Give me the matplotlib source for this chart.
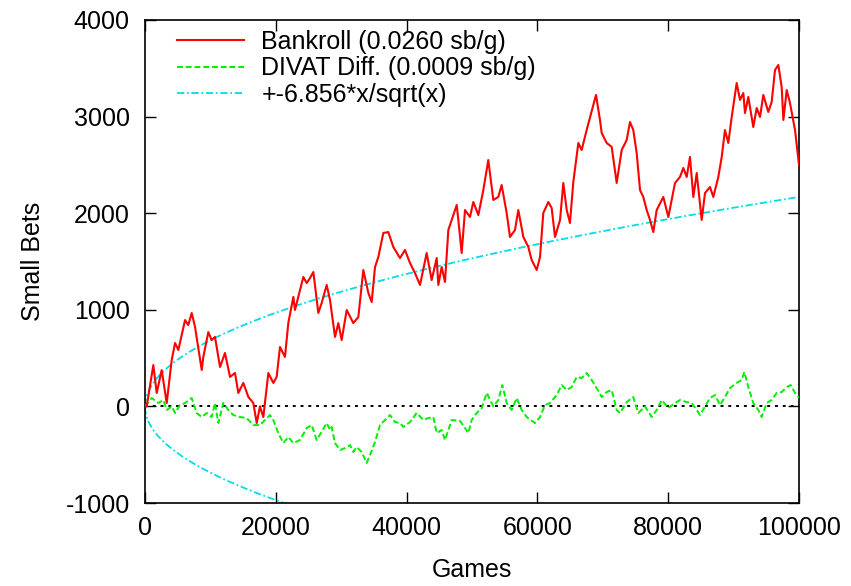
import numpy as np
import matplotlib
matplotlib.use('Agg')
from matplotlib import pyplot as plt

# values (games, small bets)
bankroll_games = [0, 260, 1270, 1790, 2550, 3320, 4080, 4590, 5100, 6120, 6620, 7140, 7650, 8670, 8920,
                  9680, 10190, 10700, 11470, 12230, 13000, 13760, 14270, 15030, 15800, 16560, 17080,
                  17580, 18090, 18860, 19620, 20130, 20640, 21400, 21910, 22680, 22930, 23700, 24210,
                  24720, 25230, 25740, 26500, 27010, 27780, 28290, 29050, 29560, 30070, 30840, 31850,
                  32620, 33380, 34150, 34660, 35170, 35680, 36440, 37200, 37970, 38990, 39750, 40520,
                  41280, 42050, 43070, 43830, 44600, 44850, 45360, 45870, 46380, 46890, 47660, 47910,
                  48420, 48930, 49690, 50200, 50970, 51730, 52490, 53260, 54020, 54530, 55300, 55810,
                  56570, 57080, 57850, 58610, 59120, 59890, 60400, 60900, 61670, 62180, 62690, 63460,
                  63960, 64480, 64980, 65490, 66260, 66770, 67530, 68960, 69570, 69830, 70590, 71360,
                  72120, 72890, 73650, 74160, 74660, 75180, 75690, 76190, 76710, 77220, 77720, 78240,
                  79250, 80020, 81040, 81800, 82310, 82830, 83330, 83840, 84360, 85120, 85630, 86390,
                  86900, 87660, 88180, 88680, 89190, 89710, 90470, 90980, 91490, 91740, 92250, 93010,
                  93530, 94040, 94540, 95300, 95820, 96330, 96840, 97350, 97610, 98120, 98620, 99390,
                  100000]
bankroll_sb = [0, 0, 428, 139, 376, 35, 480, 656, 584, 894, 843, 967, 822, 377, 512,
               770, 687, 719, 408, 553, 305, 346, 139, 243, 98, 35, -172,
               0, -110, 346, 243, 305, 615, 512, 863, 1133, 998, 1205, 1340,
               1277, 1329, 1391, 967, 1070, 1257, 1101, 719, 863, 687, 998, 863,
               925, 1412, 1174, 1081, 1443, 1547, 1795, 1805, 1650, 1536, 1619, 1484,
               1381, 1257, 1588, 1308, 1536, 1257, 1443, 1288, 1826, 1930, 2085, 1930,
               1588, 2033, 1961, 2116, 1981, 2240, 2550, 2137, 2168, 2292, 2002, 1754,
               1826, 2033, 1754, 1650, 1516, 1412, 1547, 2002, 2116, 2054, 1754, 1930,
               2313, 2033, 1899, 2323, 2727, 2654, 2861, 3224, 2965, 2830, 2727, 2686,
               2313, 2654, 2758, 2944, 2861, 2623, 2240, 2168, 2033, 1930, 1805, 2033,
               2168, 1961, 2313, 2375, 2468, 2375, 2582, 2168, 2416, 1930, 2209, 2271,
               2168, 2375, 2582, 2861, 2727, 2996, 3348, 3172, 3244, 3037, 3203, 2892,
               3089, 2996, 3224, 3048, 3151, 3482, 3534, 3306, 2965, 3275, 3141, 2861,
               2499]

divat_games = [0, 1020, 2040, 2800, 3320, 4080, 4590, 5350, 6120, 7140, 7900, 8670, 9430, 10190,
               10700, 11210, 11970, 12740, 13500, 14530, 15550, 16560, 17580, 18350, 19110, 19620,
               20380, 21150, 21910, 22680, 23700, 24720, 25490, 26250, 27010, 27780, 28290, 28540,
               29050, 29820, 30580, 31350, 31850, 32370, 33130, 33890, 34400, 35170, 35930, 36700,
               37460, 38230, 38990, 39500, 40520, 41540, 42560, 43320, 44090, 44600, 45360, 45870,
               46890, 48170, 48930, 49440, 49950, 50720, 51480, 52250, 53260, 54020, 54640, 55300,
               56070, 56830, 57600, 58360, 59630, 60400, 61160, 61930, 62950, 63710, 64480, 65240,
               66010, 66770, 67530, 68300, 69060, 69830, 70590, 71360, 72120, 72630, 73650, 74660,
               75430, 76450, 77480, 78240, 79010, 80020, 81040, 81800, 82830, 83590, 84360, 84860,
               85630, 86390, 87160, 87920, 88680, 89450, 90470, 91230, 91640, 92250, 93010, 93780,
               94290, 95050, 95820, 96580, 97350, 98120, 98730, 99390, 100000]
divat_sb = [0, 87, 35, 66, -37, 0, -68, 14, 35, 87, -68, -110, -68, -110,
            35, -172, 35, -37, -89, -110, -120, -193, -193, -141, -89, -141,
            -276, -379, -317, -379, -348, -224, -193, -348, -262, -172, -244, -213,
            -379, -451, -431, -400, -472, -420, -472, -586, -503, -369, -193, -141,
            -89, -162, -172, -213, -162, -68, -141, -120, -110, -276, -244, -348,
            -141, -150, -224, -276, -141, -68, -17, 139, 0, 66, 221, 35,
            -37, 87, -37, -110, -172, -110, 14, 35, 118, 221, 170, 201,
            305, 294, 346, 273, 190, 97, 149, 170, -37, -68, 45, 97,
            -68, 0, -110, -37, 66, -17, 35, 66, 45, 35, -37, -89,
            0, 87, 118, 14, 97, 190, 243, 273, 356, 201, 35, -37,
            -110, 35, 66, 139, 149, 201, 221, 139, 87]

coef = 6.856  # from legend: +-6.856*x/sqrt(x)

plt.rcParams['font.family'] = ['Liberation Sans', 'DejaVu Sans']
plt.rcParams['font.size'] = 18
plt.rcParams['axes.unicode_minus'] = False

fig = plt.figure(figsize=(8.51, 5.86), dpi=100)
ax = fig.add_axes([0.1704, 0.1416, 0.9389 - 0.1704, 0.9659 - 0.1416])

xs = np.linspace(1, 100000, 2000)
ax.axhline(0, color='black', lw=1.4, ls=(0, (1.5, 2.5)), zorder=1)
ax.plot(bankroll_games, bankroll_sb, color='#ff0000', lw=1.5, label='Bankroll (0.0260 sb/g)', zorder=4)
ax.plot(divat_games, divat_sb, color='#00ee00', lw=1.4, ls=(0, (3, 1.5)),
        label='DIVAT Diff. (0.0009 sb/g)', zorder=3)
ax.plot(xs, coef * np.sqrt(xs), color='#00dde8', lw=1.3, ls=(0, (4, 1.5, 1, 1.5)),
        label='+-6.856*x/sqrt(x)', zorder=2)
ax.plot(xs, -coef * np.sqrt(xs), color='#00dde8', lw=1.3, ls=(0, (4, 1.5, 1, 1.5)), zorder=2)

ax.set_xlim(0, 100000)
ax.set_ylim(-1000, 4000)
ax.set_xticks([0, 20000, 40000, 60000, 80000, 100000])
ax.set_yticks([-1000, 0, 1000, 2000, 3000, 4000])
ax.tick_params(direction='in', length=8, width=1, top=True, right=True, labelsize=18)
ax.tick_params(axis='x', pad=9)
ax.tick_params(axis='y', pad=11)
for s in ax.spines.values():
    s.set_linewidth(1.2)

ax.set_xlabel('Games', fontsize=18, labelpad=13)
ax.set_ylabel('Small Bets', fontsize=18, labelpad=15)

ax.legend(loc='upper left', bbox_to_anchor=(0.0336, 1.0), frameon=False, fontsize=18,
          handlelength=2.7, handletextpad=0.68, labelspacing=0.1, borderaxespad=0.0, borderpad=0.4)

fig.savefig('out.png', dpi=100)
